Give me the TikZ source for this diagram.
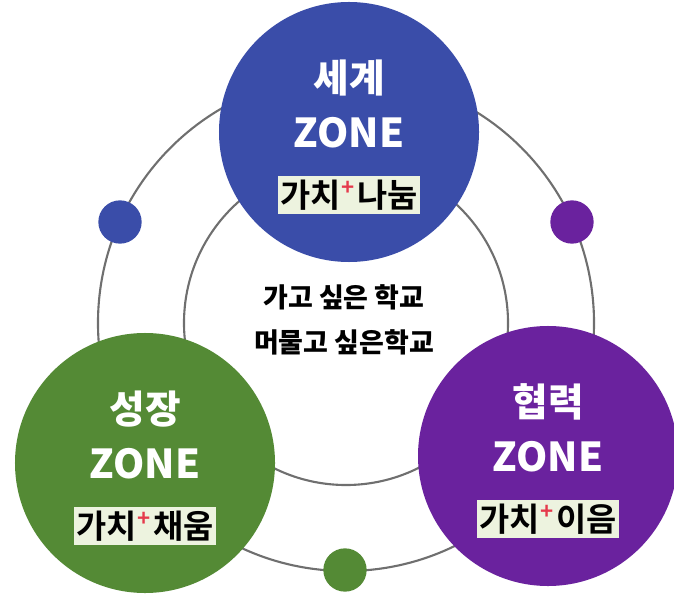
\documentclass[tikz,border=0pt]{standalone}
\usepackage{fontspec}
\setmainfont{Noto Sans CJK KR}
\IfFontExistsTF{Noto Sans CJK KR Black}
  {\newfontfamily\heavyfont{Noto Sans CJK KR Black}}
  {\newfontfamily\heavyfont{Noto Sans CJK KR}}
\IfFontExistsTF{Noto Sans CJK KR Bold}
  {\newfontfamily\boldfont{Noto Sans CJK KR Bold}}
  {\newfontfamily\boldfont{Noto Sans CJK KR}}
\usepackage{xcolor}
\usetikzlibrary{positioning,calc}

\definecolor{zoneblue}{HTML}{3A4DA9}
\definecolor{zonegreen}{HTML}{548A35}
\definecolor{zonepurple}{HTML}{6A229E}
\definecolor{boxfill}{HTML}{EDF3DF}
\definecolor{plusred}{HTML}{E53A4C}
\definecolor{ringgray}{HTML}{6F6F6F}
\newcommand{\pl}{\kern1pt\raisebox{0.35em}{\textcolor{plusred}{\fontsize{19}{19}\selectfont +}}\kern2pt}

\begin{document}
\begin{tikzpicture}[x=0.03cm,y=-0.03cm]
  \tikzset{zone/.style = {circle, inner sep=0pt, minimum size=7.8cm}}
  \tikzset{dot/.style = {circle, inner sep=0pt, minimum size=1.3cm}}
  \tikzset{ring/.style = {draw=ringgray, line width=1.8pt}}
  \tikzset{title/.style = {text=white, font=\heavyfont\fontsize{33}{33}\selectfont}}
  \tikzset{zonetext/.style = {text=white, font=\heavyfont\fontsize{34}{34}\selectfont}}
  \tikzset{value/.style = {fill=boxfill, inner xsep=2pt, inner ysep=3pt, font=\boldfont\fontsize{28}{28}\selectfont}}
  \tikzset{motto/.style = {align=center, font=\heavyfont\fontsize{23}{38}\selectfont}}

  \useasboundingbox (0,0) rectangle (674,595);

  % rings
  \coordinate (o) at (346,323);
  \draw[ring] (o) circle[radius=7.44cm];
  \draw[ring] (o) circle[radius=4.86cm];

  % dots
  \node[dot, fill=zoneblue] (d1) at (120,222) {};
  \node[dot, fill=zonepurple] (d2) at (572,222) {};
  \node[dot, fill=zonegreen] (d3) at (345,570) {};

  % zones
  \foreach \n/\x/\y/\c/\t/\w in {sg/349/132/zoneblue/세계/나눔, sj/145/463/zonegreen/성장/채움, hr/548/456/zonepurple/협력/이음}
  {
    \node[zone, fill=\c] (\n) at (\x,\y) {};
    \node[title] (\n-title) at ($(\n)+(0,-54)$) {\t};
    \node[zonetext] (\n-zone) at ($(\n)+(0,1)$) {ZONE};
    \node[value] (\n-value) at ($(\n)+(0,63)$) {가치\pl\w};
  }

  % center
  \node[motto] (motto) at (344,320) {가고 싶은 학교\\머물고 싶은학교};

\end{tikzpicture}
\end{document}
